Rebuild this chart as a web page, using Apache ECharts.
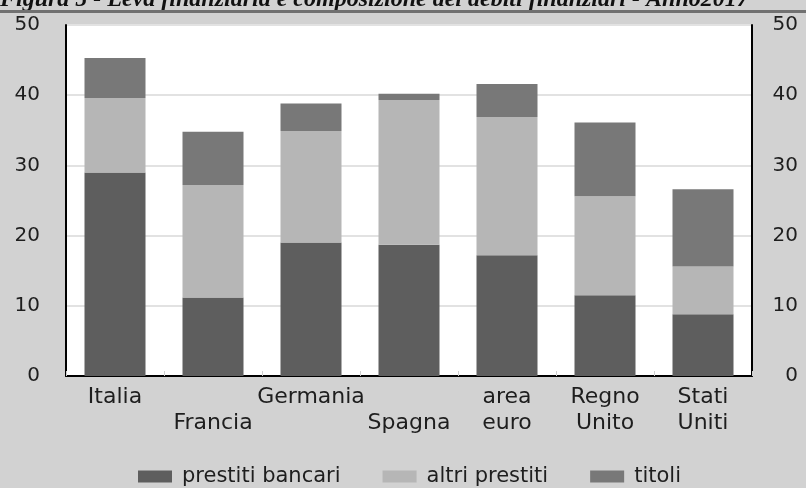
<!DOCTYPE html>
<html>
<head>
<meta charset="utf-8">
<script src="https://cdn.jsdelivr.net/npm/echarts@6/dist/echarts.min.js"></script>
<style>
  html, body { margin: 0; padding: 0; background: #d2d2d2; }
  #chart { width: 806px; height: 488px; }
</style>
</head>
<body>
<div id="chart"></div>
<script>
// Paesi / aree
var categories = ['Italia', 'Francia', 'Germania', 'Spagna', 'area euro', 'Regno Unito', 'Stati Uniti'];

// Composizione del debito finanziario (in % )
var prestitiBancari = [29.0, 11.2, 19.0, 18.7, 17.2, 11.5, 8.8];
var altriPrestiti   = [10.6, 16.0, 15.9, 20.6, 19.7, 14.1, 6.8];
var titoli          = [5.7, 7.6, 3.9, 0.9, 4.7, 10.5, 11.0];

var seriesNames = ['prestiti bancari', 'altri prestiti', 'titoli'];
var yTicks = [0, 10, 20, 30, 40, 50];

var titleText = 'Figura 5 - Leva finanziaria e composizione dei debiti finanziari - Anno2017';

var chart = echarts.init(document.getElementById('chart'));

var labelFont = 'DejaVu Sans';

function xLabel(value, index) {
  // Francia e Spagna sulla seconda riga, nomi composti su due righe
  if (index === 1 || index === 3) return '\n' + value;
  return value.replace(' ', '\n');
}

function yAxis(pos) {
  return {
    type: 'value',
    position: pos,
    min: yTicks[0],
    max: yTicks[yTicks.length - 1],
    interval: 10,
    axisLine: { show: true, lineStyle: { color: '#000', width: 2 } },
    axisTick: { show: false },
    axisLabel: {
      color: '#1e1e1e',
      fontFamily: labelFont,
      fontSize: 20,
      margin: pos === 'left' ? 26 : 46,
      align: 'right'
    },
    splitLine: pos === 'left'
      ? { show: true, lineStyle: { color: '#e2e2e2', width: 2 } }
      : { show: false }
  };
}

var colors = ['#5e5e5e', '#b6b6b6', '#787878'];
var dataSets = [prestitiBancari, altriPrestiti, titoli];

chart.setOption({
  backgroundColor: '#d2d2d2',
  animation: false,
  color: colors,
  graphic: [
    {
      type: 'text',
      left: 0,
      top: -12,
      style: {
        text: titleText,
        font: 'italic bold 24px "Liberation Serif"',
        fill: '#111'
      }
    },
    {
      type: 'rect',
      shape: { x: 0, y: 10, width: 806, height: 3 },
      style: { fill: '#717171' }
    }
  ],
  grid: {
    left: 66,
    right: 54,
    top: 25,
    bottom: 112,
    show: true,
    backgroundColor: '#ffffff',
    borderWidth: 0
  },
  legend: {
    data: seriesNames,
    left: 138,
    top: 466,
    padding: 0,
    itemWidth: 34,
    itemHeight: 12,
    itemGap: 42,
    icon: 'rect',
    textStyle: {
      color: '#1e1e1e',
      fontFamily: labelFont,
      fontSize: 21,
      lineHeight: 20,
      padding: [0, 0, 0, 5]
    }
  },
  xAxis: {
    type: 'category',
    data: categories,
    axisLine: { show: true, lineStyle: { color: '#000', width: 2 } },
    axisTick: { show: true, inside: true, length: 5, lineStyle: { color: '#cfcfcf', width: 1 } },
    axisLabel: {
      interval: 0,
      color: '#1e1e1e',
      fontFamily: labelFont,
      fontSize: 22,
      lineHeight: 26,
      margin: 8,
      formatter: xLabel
    },
    splitLine: { show: false }
  },
  yAxis: [yAxis('left'), yAxis('right')],
  series: seriesNames.map(function (name, i) {
    return {
      name: name,
      type: 'bar',
      stack: 'debito',
      barWidth: 61,
      data: dataSets[i],
      itemStyle: { color: colors[i] }
    };
  })
});
</script>
</body>
</html>
